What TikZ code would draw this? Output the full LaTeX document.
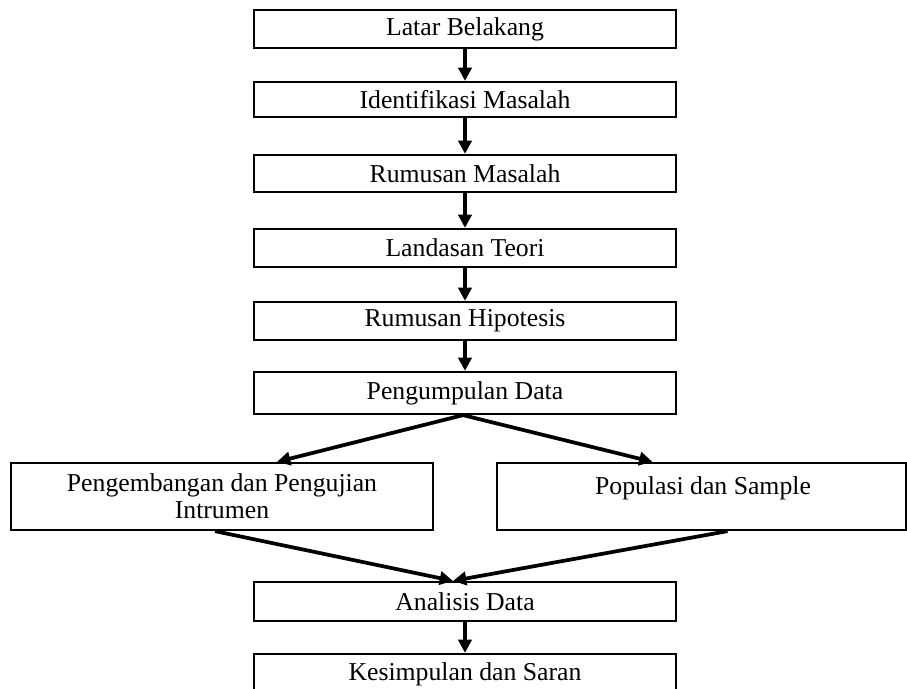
\documentclass[tikz,border=0pt]{standalone}
\usepackage{fontspec}
\setmainfont{Liberation Serif}
\usetikzlibrary{arrows.meta,calc}
\begin{document}
\begin{tikzpicture}[x=0.75pt,y=-0.75pt,
  box/.style={draw=black,line width=1.7pt,minimum width=316.5pt,inner sep=0pt,
    font=\fontsize{19.3pt}{20.25pt}\selectfont,align=center},
  txt/.style={inner sep=0pt,font=\fontsize{19.3pt}{20.25pt}\selectfont,align=center},
  flow/.style={-{Triangle[length=10pt,width=10pt]},line width=2.8pt}]
\useasboundingbox (0,0) rectangle (907,689);
\node[box,minimum height=28.5pt]  (lb) at (465,29)    {Latar Belakang};
\node[box,minimum height=26.25pt] (im) at (465,99.5)  {Identifikasi Masalah};
\node[box,minimum height=27.75pt] (rm) at (465,173.5) {Rumusan Masalah};
\node[box,minimum height=28.5pt]  (lt) at (465,248)   {Landasan Teori};
\node[box,minimum height=28.5pt]  (rh) at (465,321)   {Rumusan Hipotesis};
\node[box,minimum height=31.5pt]  (pd) at (465,393)   {Pengumpulan Data};
\node[box,minimum height=50.25pt] (pe) at (222,496.5) {Pengembangan dan Pengujian\\Intrumen};
\node[box,minimum height=50.25pt,minimum width=306.75pt] (ps) at (701.5,496.5) {};
\node[txt] (pst) at (703,488) {Populasi dan Sample};
\node[box,minimum height=29.25pt] (ad) at (465,601.5) {Analisis Data};
\node[box,minimum height=30pt]    (ks) at (465,674)   {Kesimpulan dan Saran};

\draw[flow] (lb.south) -- (im.north);
\draw[flow] (im.south) -- (rm.north);
\draw[flow] (rm.south) -- (lt.north);
\draw[flow] (lt.south) -- (rh.north);
\draw[flow] (rh.south) -- (pd.north);
\draw[flow] ([xshift=-1.5pt]pd.south) -- ([xshift=41.25pt]pe.north);
\draw[flow] ([xshift=-1.5pt]pd.south) -- ([xshift=-36.75pt]ps.north);
\draw[flow] ([xshift=-5.25pt]pe.south) -- ([xshift=-9pt]ad.north);
\draw[flow] ([xshift=19.5pt]ps.south) -- ([xshift=-9pt]ad.north);
\draw[flow] (ad.south) -- (ks.north);
\end{tikzpicture}
\end{document}
